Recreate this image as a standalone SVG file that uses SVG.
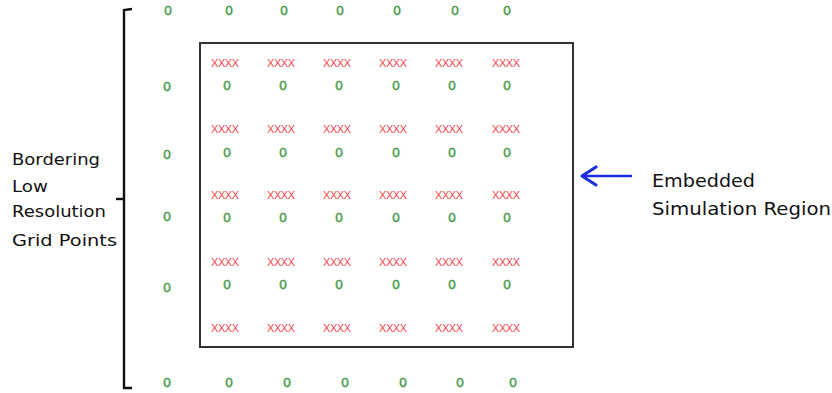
<svg xmlns="http://www.w3.org/2000/svg" width="832" height="393" viewBox="0 0 832 393">
  <defs>
    <style>
      .o { font-family: "Liberation Sans", Arial, sans-serif; font-size: 13.5px; fill: #3f9a44; stroke: #3f9a44; stroke-width: 0.4px; text-anchor: middle; }
      .x { font-family: "Liberation Sans", Arial, sans-serif; font-size: 11px; fill: #f0444c; text-anchor: middle; }
      .lbl { font-family: "DejaVu Sans", "Liberation Sans", sans-serif; font-size: 16.5px; fill: #111; }
      .big { font-family: "DejaVu Sans", "Liberation Sans", sans-serif; font-size: 17.5px; fill: #111; }
    </style>
    <marker id="head" viewBox="0 0 24 24" refX="20" refY="12" markerWidth="24" markerHeight="24" markerUnits="userSpaceOnUse" orient="auto">
      <path d="M6 3 L20 12 L6 21" fill="none" stroke="#1a2fe0" stroke-width="3.2" stroke-linecap="round" stroke-linejoin="round"/>
    </marker>
  </defs>

  <rect width="832" height="393" fill="#ffffff"/>

  <!-- embedded region box -->
  <g id="region">
    <rect x="200" y="43" width="373" height="304" fill="none" stroke="#333" stroke-width="2"/>
  </g>

  <!-- bracket around the coarse grid points -->
  <g id="bracket" fill="none" stroke="#111" stroke-width="2.4">
    <path d="M132 9 L124 10 L124 388 L132 388"/>
    <path d="M116 199 L124 199"/>
  </g>

  <!-- coarse grid points: top row -->
  <g id="coarse-top">
    <text class="o" x="168" y="15">0</text>
    <text class="o" x="229" y="15">0</text>
    <text class="o" x="284" y="15">0</text>
    <text class="o" x="340" y="15">0</text>
    <text class="o" x="397" y="15">0</text>
    <text class="o" x="455" y="15">0</text>
    <text class="o" x="507" y="15">0</text>
  </g>

  <!-- coarse grid points: left column -->
  <g id="coarse-left">
    <text class="o" x="167" y="91">0</text>
    <text class="o" x="167" y="159">0</text>
    <text class="o" x="167" y="221">0</text>
    <text class="o" x="167" y="292">0</text>
  </g>

  <!-- coarse grid points: bottom row -->
  <g id="coarse-bottom">
    <text class="o" x="167" y="387">0</text>
    <text class="o" x="229" y="387">0</text>
    <text class="o" x="287" y="387">0</text>
    <text class="o" x="345" y="387">0</text>
    <text class="o" x="403" y="387">0</text>
    <text class="o" x="460" y="387">0</text>
    <text class="o" x="513" y="387">0</text>
  </g>

  <!-- fine grid markers inside the region -->
  <g id="fine-x">
    <g transform="translate(0,67)">
      <text class="x" x="225" textLength="28">XXXX</text><text class="x" x="281" textLength="28">XXXX</text><text class="x" x="337" textLength="28">XXXX</text>
      <text class="x" x="393" textLength="28">XXXX</text><text class="x" x="449" textLength="28">XXXX</text><text class="x" x="506" textLength="28">XXXX</text>
    </g>
    <g transform="translate(0,133)">
      <text class="x" x="225" textLength="28">XXXX</text><text class="x" x="281" textLength="28">XXXX</text><text class="x" x="337" textLength="28">XXXX</text>
      <text class="x" x="393" textLength="28">XXXX</text><text class="x" x="449" textLength="28">XXXX</text><text class="x" x="506" textLength="28">XXXX</text>
    </g>
    <g transform="translate(0,199)">
      <text class="x" x="225" textLength="28">XXXX</text><text class="x" x="281" textLength="28">XXXX</text><text class="x" x="337" textLength="28">XXXX</text>
      <text class="x" x="393" textLength="28">XXXX</text><text class="x" x="449" textLength="28">XXXX</text><text class="x" x="506" textLength="28">XXXX</text>
    </g>
    <g transform="translate(0,266)">
      <text class="x" x="225" textLength="28">XXXX</text><text class="x" x="281" textLength="28">XXXX</text><text class="x" x="337" textLength="28">XXXX</text>
      <text class="x" x="393" textLength="28">XXXX</text><text class="x" x="449" textLength="28">XXXX</text><text class="x" x="506" textLength="28">XXXX</text>
    </g>
    <g transform="translate(0,332)">
      <text class="x" x="225" textLength="28">XXXX</text><text class="x" x="281" textLength="28">XXXX</text><text class="x" x="337" textLength="28">XXXX</text>
      <text class="x" x="393" textLength="28">XXXX</text><text class="x" x="449" textLength="28">XXXX</text><text class="x" x="506" textLength="28">XXXX</text>
    </g>
  </g>

  <!-- coarse points inside the region -->
  <g id="inner-o">
    <g transform="translate(0,90)">
      <text class="o" x="227">0</text><text class="o" x="283">0</text><text class="o" x="339">0</text>
      <text class="o" x="396">0</text><text class="o" x="452">0</text><text class="o" x="507">0</text>
    </g>
    <g transform="translate(0,157)">
      <text class="o" x="227">0</text><text class="o" x="283">0</text><text class="o" x="339">0</text>
      <text class="o" x="396">0</text><text class="o" x="452">0</text><text class="o" x="507">0</text>
    </g>
    <g transform="translate(0,222)">
      <text class="o" x="227">0</text><text class="o" x="283">0</text><text class="o" x="339">0</text>
      <text class="o" x="396">0</text><text class="o" x="452">0</text><text class="o" x="507">0</text>
    </g>
    <g transform="translate(0,289)">
      <text class="o" x="227">0</text><text class="o" x="283">0</text><text class="o" x="339">0</text>
      <text class="o" x="396">0</text><text class="o" x="452">0</text><text class="o" x="507">0</text>
    </g>
  </g>

  <!-- left label -->
  <g id="label-bordering">
    <text class="lbl" x="12" y="165" textLength="88" lengthAdjust="spacingAndGlyphs">Bordering</text>
    <text class="lbl" x="12" y="192" textLength="36" lengthAdjust="spacingAndGlyphs">Low</text>
    <text class="lbl" x="12" y="217" textLength="94" lengthAdjust="spacingAndGlyphs">Resolution</text>
    <text class="lbl" x="12" y="246" textLength="105" lengthAdjust="spacingAndGlyphs">Grid Points</text>
  </g>

  <!-- right label -->
  <g id="label-embedded">
    <text class="big" x="652" y="187" textLength="103" lengthAdjust="spacingAndGlyphs">Embedded</text>
    <text class="big" x="652" y="215" textLength="179" lengthAdjust="spacingAndGlyphs">Simulation Region</text>
  </g>

  <!-- connectors -->
  <g id="connectors">
    <line x1="632" y1="176" x2="582" y2="176" stroke="#1a2fe0" stroke-width="2.4" marker-end="url(#head)"/>
  </g>
</svg>
